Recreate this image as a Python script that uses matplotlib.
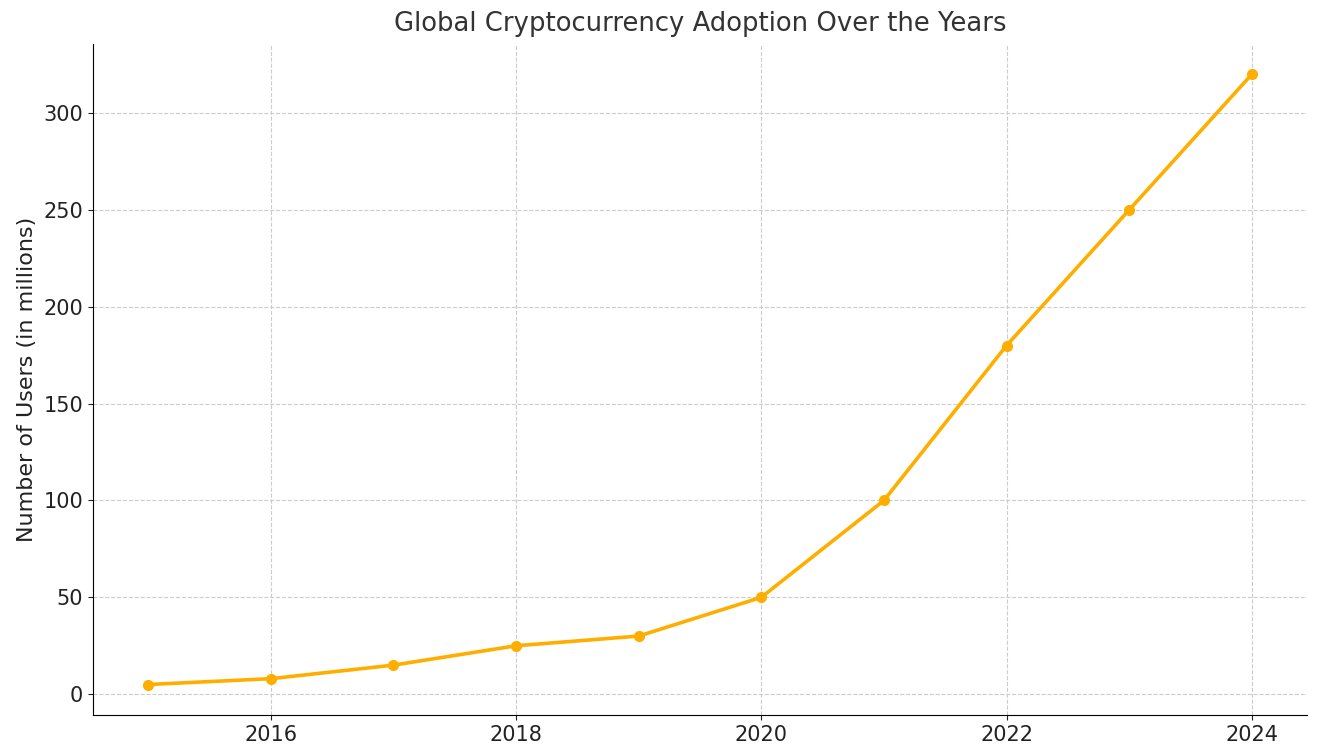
import matplotlib
matplotlib.use("Agg")
import matplotlib.pyplot as plt

years = [2015, 2016, 2017, 2018, 2019, 2020, 2021, 2022, 2023, 2024]
users = [5, 8, 15, 25, 30, 50, 100, 180, 250, 320]

fig = plt.figure(figsize=(13.32, 7.48), dpi=100)
ax = fig.add_axes([0.0698, 0.0441, 0.9114, 0.8973])
ax.plot(years, users, marker='o', color='#FFAE00', linewidth=2.6, markersize=7)
ax.set_title("Global Cryptocurrency Adoption Over the Years", fontsize=18.6, color='#333333', pad=9)
ax.set_ylabel("Number of Users (in millions)", fontsize=16, color='#222222', labelpad=5)
ax.set_xticks([2016, 2018, 2020, 2022, 2024])
ax.tick_params(labelsize=15, colors='#222222')
ax.grid(True, linestyle='--', color='#cccccc', linewidth=0.8)
ax.spines['top'].set_visible(False)
ax.spines['right'].set_visible(False)
fig.savefig("out.png", dpi=100)
